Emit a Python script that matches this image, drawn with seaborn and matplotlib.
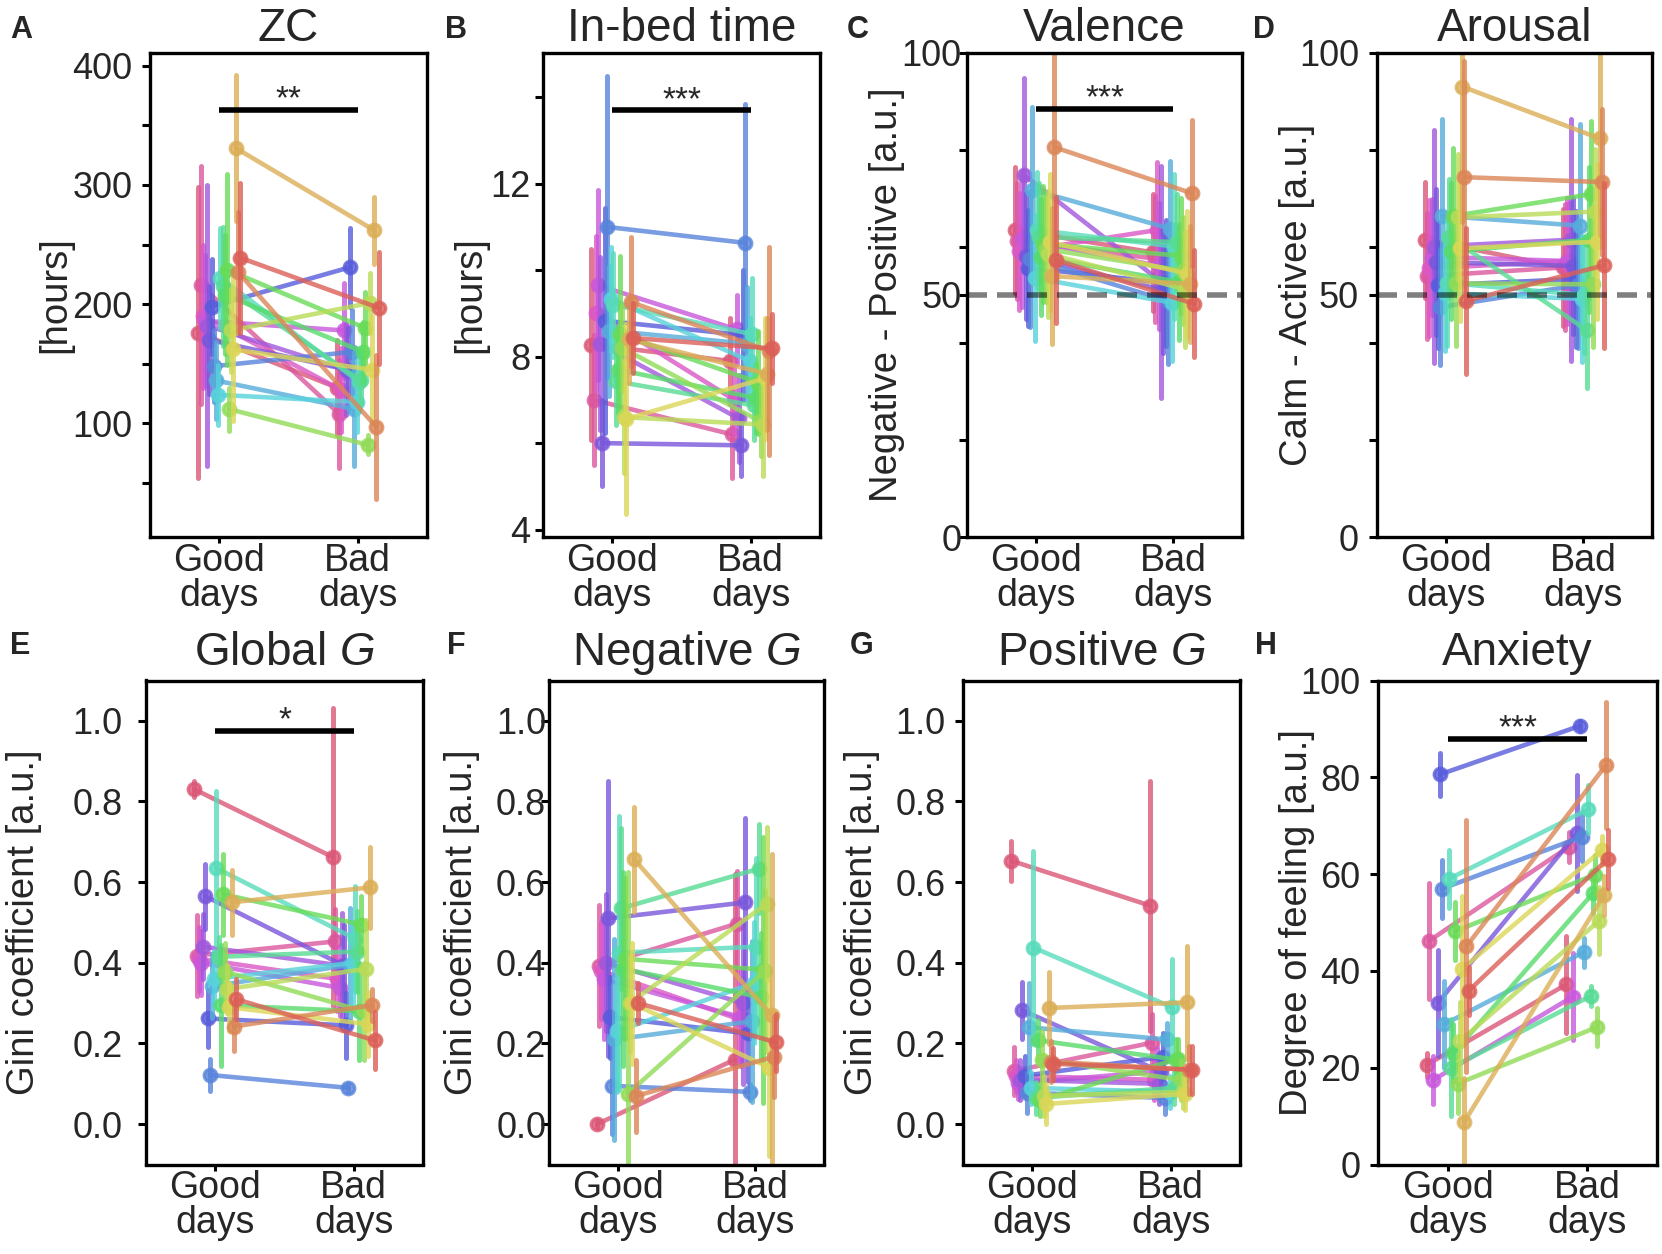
import numpy as np
import pandas as pd
import matplotlib.pyplot as plt
import seaborn as sns

conditions = ["Good\ndays", "Bad\ndays"]
subjects = [f"S{i:02d}" for i in range(1, 21)]
nan = np.nan

# A: ZC [hours]
zc_good = [176, 216, 190, 186, 182, 170, 198, 148, 136, 124, 222, 215, 208, 229, 112, 178, 162, 331, 227, 239]
zc_good_err = [122, 100, 60, 55, 118, 45, 40, 30, 32, 25, 42, 50, 50, 80, 18, 35, 60, 61, 50, 63]
zc_bad = [130, 108, 128, 178, 145, 145, 231, 160, 112, 118, 135, 136, 160, 180, 82, 201, 145, 262, 97, 197]
zc_bad_err = [40, 45, 35, 40, 38, 35, 33, 35, 48, 25, 25, 20, 25, 30, 8, 25, 45, 28, 60, 47]

# B: in-bed time [hours]
bed_good = [8.28, 7.0, 9.0, 9.65, 8.3, 6.0, 8.83, 11.0, 8.6, 9.33, 9.2, 7.43, 7.7, 8.52, 8.2, 6.6, 6.56, 8.4, 9.26, 8.43]
bed_good_err = [2.2, 1.5, 1.8, 2.2, 2.0, 1.0, 2.6, 3.5, 1.5, 1.2, 1.2, 1.0, 1.0, 1.8, 1.0, 1.3, 2.2, 1.0, 1.5, 0.8]
bed_bad = [7.9, 6.2, 7.0, 8.63, 6.57, 5.95, 8.5, 10.63, 8.3, 7.9, 8.52, 6.87, 7.04, 7.4, 6.5, 6.43, 7.5, 7.6, 8.13, 8.19]
bed_bad_err = [1.0, 1.0, 0.8, 0.8, 1.0, 0.7, 1.5, 3.2, 1.3, 1.0, 1.3, 0.8, 0.8, 1.2, 0.8, 1.2, 1.4, 1.3, 2.4, 0.8]

# C: valence
val_good = [63.4, 61.2, 59.0, 61.5, 74.8, 58.0, 55.6, 57.4, 71.7, 53.5, 63.4, 62.0, 57.8, 60.5, 59.5, 58.5, 60.9, 53.9, 80.5, 57.2]
val_good_err = [13, 12, 12, 14, 20, 13, 12, 14, 17, 13, 12, 11, 12, 12, 11, 13, 14, 14, 22, 13]
val_bad = [58.8, 57.5, 63.4, 56.0, 52.7, 51.0, 52.5, 48.8, 63.7, 48.4, 60.0, 60.9, 52.7, 58.1, 55.0, 51.2, 54.4, 52.3, 71.0, 48.2]
val_bad_err = [12, 13, 14, 13, 24, 13, 13, 13, 14, 12, 15, 10, 12, 12, 11, 12, 13, 12, 15, 11]

# D: arousal
aro_good = [61.4, 53.9, 55.5, 57.9, 60.0, 56.8, 52.0, 47.5, 66.3, 50.4, 52.5, 62.0, 59.0, 66.3, 52.4, 66.0, 59.6, 93.0, 74.3, 48.8]
aro_good_err = [12, 13, 14, 12, 24, 15, 13, 12, 20, 12, 13, 12, 14, 14, 13, 13, 15, 28, 24, 15]
aro_bad = [55.7, 55.7, 57.0, 57.0, 61.4, 56.0, 53.3, 52.0, 64.3, 49.2, 50.0, 42.8, 61.4, 70.8, 52.2, 67.2, 61.0, 82.3, 73.3, 56.1]
aro_bad_err = [12, 13, 13, 12, 25, 14, 14, 13, 21, 13, 12, 12, 15, 15, 13, 13, 16, 20, 15, 17]

# E: global G
glob_good = [0.83, 0.418, 0.41, 0.40, 0.44, 0.565, 0.262, 0.122, 0.342, 0.36, 0.635, 0.415, 0.295, 0.57, 0.378, 0.335, 0.29, 0.55, 0.242, 0.31]
glob_good_err = [0.02, 0.10, 0.08, 0.08, 0.08, 0.08, 0.07, 0.04, 0.08, 0.07, 0.19, 0.05, 0.15, 0.10, 0.07, 0.06, 0.06, 0.08, 0.06, 0.05]
glob_bad = [0.662, 0.453, 0.36, 0.338, 0.393, 0.393, 0.245, 0.09, 0.395, 0.40, 0.46, 0.428, 0.28, 0.495, 0.28, 0.385, 0.248, 0.587, 0.295, 0.208]
glob_bad_err = [0.37, 0.08, 0.08, 0.07, 0.13, 0.10, 0.08, 0.01, 0.14, 0.10, 0.13, 0.10, 0.12, 0.07, 0.12, 0.12, 0.08, 0.10, 0.04, 0.07]

# F: negative G
neg_good = [0.0, 0.393, 0.38, 0.36, 0.40, 0.51, 0.265, 0.095, 0.21, 0.23, 0.425, 0.535, 0.385, 0.41, 0.075, 0.30, 0.30, 0.657, 0.07, 0.30]
neg_good_err = [0.01, 0.15, 0.12, 0.15, 0.17, 0.34, 0.10, 0.12, 0.25, 0.15, 0.34, 0.20, 0.24, 0.20, 0.55, 0.12, 0.15, 0.13, 0.09, 0.05]
neg_bad = [0.16, 0.497, 0.26, 0.265, 0.30, 0.55, 0.225, 0.08, 0.255, 0.35, 0.44, 0.633, 0.315, 0.383, 0.38, 0.547, 0.14, 0.27, 0.167, 0.203]
neg_bad_err = [0.46, 0.13, 0.10, 0.12, 0.20, 0.21, 0.12, 0.02, 0.20, 0.15, 0.22, 0.11, 0.16, 0.33, 0.20, 0.19, 0.22, 0.40, 0.10, 0.07]

# G: positive G
pos_good = [0.653, 0.132, 0.12, 0.102, 0.11, 0.282, 0.12, 0.078, 0.24, 0.09, 0.438, 0.065, 0.208, 0.06, 0.16, 0.07, 0.05, 0.288, 0.155, 0.15]
pos_good_err = [0.05, 0.06, 0.04, 0.04, 0.05, 0.07, 0.05, 0.05, 0.11, 0.04, 0.24, 0.04, 0.05, 0.04, 0.07, 0.05, 0.05, 0.09, 0.05, 0.04]
pos_bad = [0.542, 0.202, 0.11, 0.13, 0.10, 0.13, 0.167, 0.065, 0.21, 0.08, 0.29, 0.09, 0.16, 0.162, 0.11, 0.08, 0.075, 0.302, 0.135, 0.135]
pos_bad_err = [0.31, 0.07, 0.05, 0.06, 0.05, 0.04, 0.06, 0.04, 0.04, 0.04, 0.12, 0.04, 0.05, 0.05, 0.05, 0.04, 0.04, 0.14, 0.06, 0.06]

# H: anxiety
anx_good = [20.6, 46.2, nan, 17.5, nan, 33.4, 80.6, 57.0, 29.0, nan, 59.0, 20.0, 23.0, 48.2, 16.7, 25.5, 40.4, 8.8, 45.1, 35.9]
anx_good_err = [2.5, 12, nan, 5, nan, 11, 4.5, 6, 9, nan, 6, 10, 6, 6, 6, 8, 15, 9, 26, 5]
anx_bad = [37.2, 65.6, nan, 34.7, nan, 68.5, 90.6, 67.7, 43.9, nan, 73.4, 34.8, 56.0, 59.9, 28.4, 50.4, 64.9, 55.6, 82.5, 63.2]
anx_bad_err = [10, 3, nan, 9, nan, 12, 1, 5, 3, nan, 5, 2, 4, 4, 4, 7, 3, 4, 13, 6]


def long_table(good, good_err, bad, bad_err):
    # three rows per subject/day: mean-err, mean, mean+err -> mean and min/max interval
    rows = []
    for s, gm, ge, bm, be in zip(subjects, good, good_err, bad, bad_err):
        for day, m, e in ((conditions[0], gm, ge), (conditions[1], bm, be)):
            if np.isnan(m):
                continue
            for v in (m - e, m, m + e):
                rows.append({"subject": s, "day": day, "value": v})
    return pd.DataFrame(rows)


sns.set_style("ticks")
plt.rcParams["font.family"] = ["Liberation Sans", "DejaVu Sans"]
plt.rcParams["mathtext.fontset"] = "custom"
plt.rcParams["mathtext.rm"] = "Liberation Sans"
plt.rcParams["mathtext.it"] = "Liberation Sans:italic"

palette = dict(zip(subjects, sns.color_palette("hls", len(subjects))[::-1]))

W, H = 1662, 1254
fig = plt.figure(figsize=(W / 100, H / 100), dpi=100)

gini_ticks = [0, 0.2, 0.4, 0.6, 0.8, 1.0]
gini_labels = ["0.0", "0.2", "0.4", "0.6", "0.8", "1.0"]
panels = [
    # letter, title, ylabel, data, ylim, ticks, labels, (left, right) px, row, label x, tick pad, sig
    ("A", "ZC", "[hours]", (zc_good, zc_good_err, zc_bad, zc_bad_err), (4.4, 411),
     [50, 100, 150, 200, 250, 300, 350, 400], ["", "100", "", "200", "", "300", "", "400"],
     (150, 427), 0, -0.278, 6.5, (363, "**")),
    ("B", "In-bed time", "[hours]", (bed_good, bed_good_err, bed_bad, bed_bad_err), (3.82, 15.03),
     [4, 6, 8, 10, 12, 14], ["4", "", "8", "", "12", ""],
     (543, 820), 0, -0.199, 3, (13.7, "***")),
    ("C", "Valence", "Negative - Positive [a.u.]", (val_good, val_good_err, val_bad, val_bad_err), (0, 100),
     [0, 20, 40, 50, 60, 80, 100], ["0", "", "", "50", "", "", "100"],
     (967, 1242), 0, -0.225, -2, (88.4, "***")),
    ("D", "Arousal", "Calm - Activee [a.u.]", (aro_good, aro_good_err, aro_bad, aro_bad_err), (0, 100),
     [0, 20, 40, 50, 60, 80, 100], ["0", "", "", "50", "", "", "100"],
     (1377, 1652), 0, -0.225, 7, None),
    ("E", "Global $G$", "Gini coefficient [a.u.]", (glob_good, glob_good_err, glob_bad, glob_bad_err), (-0.1, 1.1),
     gini_ticks, gini_labels, (146, 423), 1, -0.375, 11, (0.975, "*")),
    ("F", "Negative $G$", "Gini coefficient [a.u.]", (neg_good, neg_good_err, neg_bad, neg_bad_err), (-0.1, 1.1),
     gini_ticks, gini_labels, (549, 824), 1, -0.251, -4, None),
    ("G", "Positive $G$", "Gini coefficient [a.u.]", (pos_good, pos_good_err, pos_bad, pos_bad_err), (-0.1, 1.1),
     gini_ticks, gini_labels, (963, 1240), 1, -0.30, 6.5, None),
    ("H", "Anxiety", "Degree of feeling [a.u.]", (anx_good, anx_good_err, anx_bad, anx_bad_err), (0, 100),
     [0, 20, 40, 60, 80, 100], ["0", "20", "40", "60", "80", "100"],
     (1378, 1657), 1, -0.226, 6.5, (88, "***")),
]

rows_px = [(52.6, 537.4), (680.5, 1164.5)]
title_pad = [8, 11]
letter_pos = {"A": (10, 30), "B": (445, 30), "C": (847, 30), "D": (1253, 30),
              "E": (10, 646), "F": (447, 646), "G": (850, 646), "H": (1255, 646)}

for letter, title, ylabel, vals, ylim, ticks, labels, xs, row, lab_x, tpad, sig in panels:
    top, bottom = rows_px[row]
    left, right = xs
    ax = fig.add_axes([left / W, 1 - bottom / H, (right - left) / W, (bottom - top) / H])
    df = long_table(*vals)
    sns.pointplot(data=df, x="day", y="value", hue="subject", order=conditions,
                  hue_order=subjects, palette=palette, estimator="mean",
                  errorbar=("pi", 100), dodge=0.3, legend=False, ax=ax,
                  linewidth=3.3, markersize=9, markeredgewidth=2.4, alpha=0.8,
                  err_kws={"linewidth": 3.6, "alpha": 0.8})
    ax.set_xlim(-0.5, 1.5)
    ax.set_ylim(*ylim)
    ax.set_yticks(ticks)
    ax.set_yticklabels(labels, fontsize=26)
    ax.set_xticks([0, 1])
    ax.set_xticklabels(conditions, fontsize=27, linespacing=0.95)
    ax.set_xlabel("")
    ax.set_ylabel(ylabel, fontsize=27.5)
    ax.yaxis.set_label_coords(lab_x, 0.5)
    ax.set_title(title, fontsize=33, pad=title_pad[row])
    ax.tick_params(axis="y", length=6, width=2.2, pad=tpad, color="black")
    ax.tick_params(axis="x", length=4, width=2.2, pad=0, color="black")
    for sp in ax.spines.values():
        sp.set_visible(True)
        sp.set_linewidth(2.4)
        sp.set_color("black")

    if letter in ("C", "D"):
        ax.axhline(50, color="black", alpha=0.5, lw=4, ls=(0, (3.6, 1.8)), zorder=10)
    if sig is not None:
        y, stars = sig
        ax.plot([0, 1], [y, y], color="black", lw=4, solid_capstyle="butt", zorder=11)
        ax.annotate(stars, xy=(0.5, y), xytext=(0, 7), textcoords="offset points",
                    ha="center", va="center", fontsize=24, zorder=12)

    lx, ly = letter_pos[letter]
    fig.text(lx / W, 1 - ly / H, letter, fontsize=22, fontweight="bold",
             ha="left", va="center")

fig.savefig("out.png", dpi=100)
